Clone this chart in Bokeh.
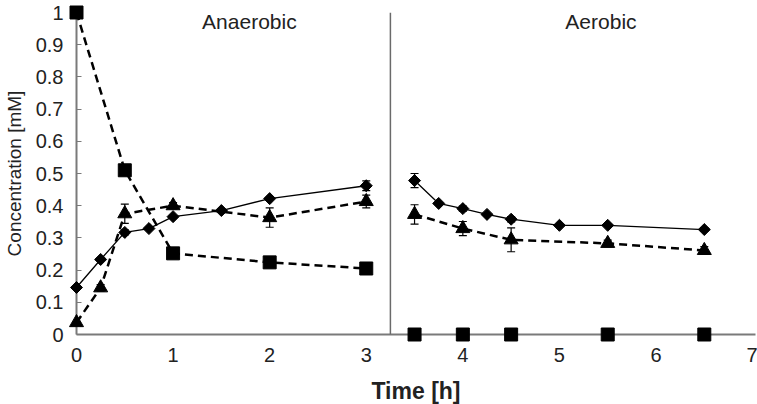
import math
from bokeh.plotting import figure
from bokeh.models import ColumnDataSource, Whisker, TeeHead, Span, FixedTicker, Label
from bokeh.core.properties import value
from bokeh.embed import file_html
from bokeh.resources import INLINE

# ---- data ----
sq_t_an = [0, 0.5, 1, 2, 3]
sq_v_an = [1.0, 0.51, 0.252, 0.224, 0.205]
sq_t_ae = [3.5, 4, 4.5, 5.5, 6.5]
sq_v_ae = [0, 0, 0, 0, 0]

di_t_an = [0, 0.25, 0.5, 0.75, 1, 1.5, 2, 3]
di_v_an = [0.146, 0.233, 0.317, 0.329, 0.366, 0.385, 0.422, 0.462]
di_e_an = [0, 0, 0.008, 0, 0, 0, 0, 0.015]
di_t_ae = [3.5, 3.75, 4, 4.25, 4.5, 5, 5.5, 6.5]
di_v_ae = [0.478, 0.407, 0.391, 0.373, 0.358, 0.339, 0.339, 0.326]
di_e_ae = [0.022, 0, 0.008, 0, 0.008, 0, 0, 0.006]

tr_t_an = [0, 0.25, 0.5, 1, 2, 3]
tr_v_an = [0.037, 0.145, 0.375, 0.400, 0.363, 0.413]
tr_e_an = [0, 0.01, 0.03, 0.01, 0.03, 0.02]
tr_t_ae = [3.5, 4, 4.5, 5.5, 6.5]
tr_v_ae = [0.373, 0.329, 0.294, 0.283, 0.261]
tr_e_ae = [0.03, 0.022, 0.037, 0.01, 0.012]

y_ticks = [0, 0.1, 0.2, 0.3, 0.4, 0.5, 0.6, 0.7, 0.8, 0.9, 1.0]
y_tick_labels = ["0", "0.1", "0.2", "0.3", "0.4", "0.5", "0.6", "0.7", "0.8", "0.9", "1"]
x_ticks = [0, 1, 2, 3, 4, 5, 6, 7]
x_title = "Time [h]"
y_title = "Concentration [mM]"
phase_split = 3.25
phase_names = ["Anaerobic", "Aerobic"]

FONT = "Liberation Sans"
AXIS_GREY = "#7a7a7a"
DASH = "8 5"
X_END = 7.03

p = figure(width=757, height=404, x_range=(0, X_END), y_range=(0, 1),
           output_backend="svg", toolbar_location=None,
           min_border_left=76, min_border_right=2, min_border_top=12, min_border_bottom=70,
           y_axis_label=y_title)
p.outline_line_color = None
p.grid.visible = False
p.background_fill_color = "white"
p.border_fill_color = "white"

# axes
for ax in (p.xaxis[0], p.yaxis[0]):
    ax.axis_line_color = AXIS_GREY
    ax.axis_line_width = 2
    ax.minor_tick_line_color = None
    ax.major_label_text_font = FONT
    ax.major_label_text_font_size = "20px"
    ax.major_label_text_color = "#222222"
    ax.axis_label_text_font = FONT
    ax.axis_label_text_color = "#222222"

p.yaxis.ticker = FixedTicker(ticks=y_ticks)
p.yaxis.major_label_overrides = {t: l for t, l in zip(y_ticks, y_tick_labels)}
p.yaxis.major_tick_in = 5
p.yaxis.major_tick_out = 0
p.yaxis.major_tick_line_color = AXIS_GREY
p.yaxis.major_tick_line_width = 1
p.yaxis.major_label_standoff = 13
p.yaxis.axis_label_standoff = 8
p.yaxis.axis_label_text_font_size = "19px"
p.yaxis.axis_label_text_font_style = "normal"

p.xaxis.ticker = FixedTicker(ticks=x_ticks)
p.xaxis.major_tick_line_color = None
p.xaxis.major_tick_in = 0
p.xaxis.major_tick_out = 0
p.xaxis.major_label_standoff = 13

# x-axis title, placed under the tick labels (centred on the plot frame)
p.text(x=[X_END / 2], y=[-0.177], text=[x_title], text_align="center", text_baseline="middle",
       text_font=value(FONT), text_font_size="23px", text_font_style="bold", text_color="#222222",
       level="overlay")

# phase divider
p.add_layout(Span(location=phase_split, dimension="height", line_color="#6a6a6a", line_width=1.5))

# error bars
def whisker(t, v, e):
    src = ColumnDataSource(dict(x=t, lo=[a - b for a, b in zip(v, e)], hi=[a + b for a, b in zip(v, e)]))
    w = Whisker(source=src, base="x", lower="lo", upper="hi", line_color="black", line_width=1.2,
                upper_head=TeeHead(size=8, line_color="black", line_width=1.2),
                lower_head=TeeHead(size=8, line_color="black", line_width=1.2))
    p.add_layout(w)

whisker(di_t_an, di_v_an, di_e_an)
whisker(di_t_ae, di_v_ae, di_e_ae)
whisker(tr_t_an, tr_v_an, tr_e_an)
whisker(tr_t_ae, tr_v_ae, tr_e_ae)

# squares (dashed; aerobic values lie on the axis line)
p.line(sq_t_an, sq_v_an, line_color="black", line_width=2.5, line_dash=DASH, level="overlay")
p.scatter(sq_t_an, sq_v_an, marker="square", size=13, color="black", level="overlay")
p.scatter(sq_t_ae, sq_v_ae, marker="square", size=13, color="black", level="overlay")

# triangles (dashed)
p.line(tr_t_an, tr_v_an, line_color="black", line_width=2.5, line_dash=DASH, level="overlay")
p.line(tr_t_ae, tr_v_ae, line_color="black", line_width=2.5, line_dash=DASH, level="overlay")
p.scatter(tr_t_an, tr_v_an, marker="triangle", size=14, color="black", level="overlay")
p.scatter(tr_t_ae, tr_v_ae, marker="triangle", size=14, color="black", level="overlay")

# diamonds (solid) - rotated squares
p.line(di_t_an, di_v_an, line_color="black", line_width=1.3, level="overlay")
p.line(di_t_ae, di_v_ae, line_color="black", line_width=1.3, level="overlay")
p.scatter(di_t_an, di_v_an, marker="square", angle=math.pi / 4, size=8.5, color="black", level="overlay")
p.scatter(di_t_ae, di_v_ae, marker="square", angle=math.pi / 4, size=8.5, color="black", level="overlay")

# phase titles
for name, xpos in zip(phase_names, [1.79, 5.43]):
    p.add_layout(Label(x=xpos, y=0.972, text=name, text_align="center", text_baseline="middle",
                       text_font=FONT, text_font_size="21px", text_color="#222222"))

open("out.html", "w").write(file_html(p, INLINE))
